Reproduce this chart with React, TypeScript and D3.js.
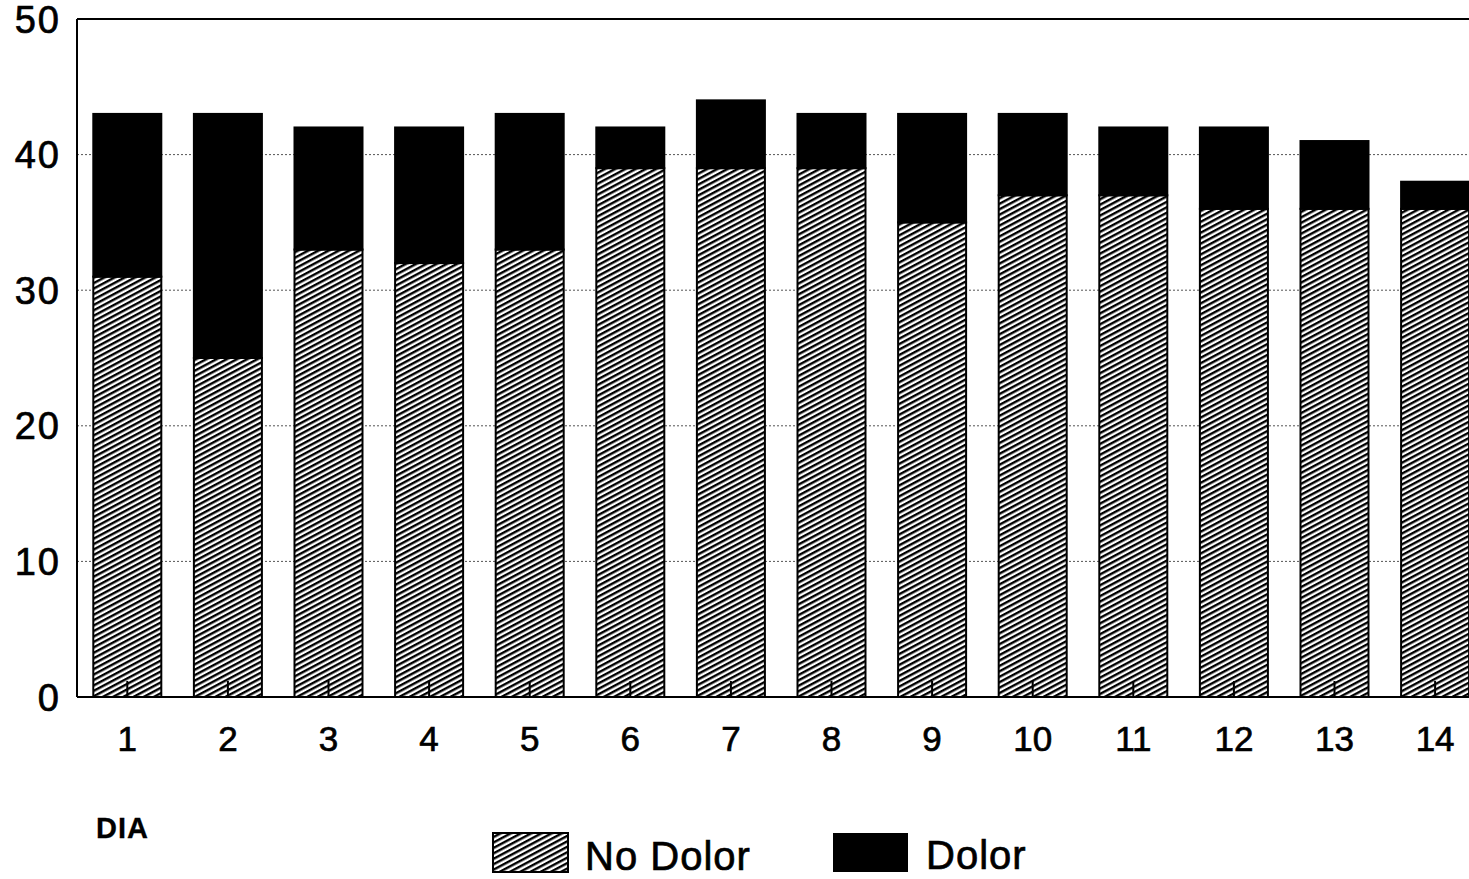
import React from "react";
import * as d3 from "d3";

const categories = ["1","2","3","4","5","6","7","8","9","10","11","12","13","14"];
const noDolor = [31, 25, 33, 32, 33, 39, 39, 39, 35, 37, 37, 36, 36, 36];
const dolor = [12, 18, 9, 10, 10, 3, 5, 4, 8, 6, 5, 6, 5, 2];
const yTicks = [0, 10, 20, 30, 40, 50];
const seriesNames = ["No Dolor", "Dolor"];

const W = 1469, H = 879;
const left = 77, baseY = 697, topY = 19;
const font = "'Liberation Sans', Arial, Helvetica, sans-serif";

export default function App() {
  const x = d3.scaleBand<string>().domain(categories).range([left, left + 14 * 100.6]).paddingInner(0.324).paddingOuter(0.162);
  const y = d3.scaleLinear().domain([0, 50]).range([baseY, topY]);
  const rows = categories.map((c, i) => ({ cat: c, "No Dolor": noDolor[i], "Dolor": dolor[i] }));
  const stack = d3.stack<any>().keys(seriesNames)(rows);
  const fills = ["url(#hatch)", "#000"];
  const txt = { fontFamily: font, fill: "#000", stroke: "#000", strokeWidth: 0.7 };

  return (
    <svg width={W} height={H} style={{ position: "absolute", left: 0, top: 0, background: "#fff" }}>
      <defs>
        <pattern id="hatch" patternUnits="userSpaceOnUse" width={12} height={4.8} patternTransform="rotate(-28)">
          <rect x={0} y={0} width={12} height={4.8} fill="#fff" />
          <rect x={0} y={0} width={12} height={2.4} fill="#000" />
        </pattern>
      </defs>
      {/* gridlines */}
      {yTicks.filter(t => t > 0 && t < 50).map(t => (
        <line key={t} x1={left} x2={W} y1={y(t)} y2={y(t)} stroke="#555" strokeWidth={1} strokeDasharray="2,2" />
      ))}
      {/* top line */}
      <line x1={left} x2={W} y1={y(50)} y2={y(50)} stroke="#000" strokeWidth={2} />
      {/* bars */}
      {stack.map((s, si) => (
        <g key={si}>
          {s.map((d, i) => (
            <rect key={i} x={x(categories[i])!} width={x.bandwidth()} y={y(d[1])} height={y(d[0]) - y(d[1])}
              fill={fills[si]} stroke="#000" strokeWidth={2} />
          ))}
        </g>
      ))}
      {/* x ticks */}
      {categories.map(c => (
        <line key={c} x1={x(c)! + x.bandwidth() / 2} x2={x(c)! + x.bandwidth() / 2} y1={baseY} y2={baseY - 16} stroke="#000" strokeWidth={2} />
      ))}
      {/* axes */}
      <line x1={left} x2={left} y1={y(50)} y2={baseY} stroke="#000" strokeWidth={2} />
      <line x1={left} x2={W} y1={baseY} y2={baseY} stroke="#000" strokeWidth={2} />
      {/* y labels */}
      {yTicks.map(t => (
        <text key={t} x={61} y={y(t)} dy="0.36em" textAnchor="end" fontSize={38} letterSpacing={2} {...txt}>{t}</text>
      ))}
      {/* x labels */}
      {categories.map(c => (
        <text key={c} x={x(c)! + x.bandwidth() / 2} y={751} textAnchor="middle" fontSize={35} {...txt}>{c}</text>
      ))}
      <text x={96} y={838} fontSize={29} fontWeight="bold" letterSpacing={1} {...txt} strokeWidth={0.3}>DIA</text>
      {/* legend */}
      <rect x={493} y={833} width={75} height={39} fill="url(#hatch)" stroke="#000" strokeWidth={2} />
      <text x={585} y={870} fontSize={40} letterSpacing={1} {...txt}>{seriesNames[0]}</text>
      <rect x={833} y={833} width={75} height={39} fill="#000" />
      <text x={926} y={869} fontSize={40} letterSpacing={1} {...txt}>{seriesNames[1]}</text>
    </svg>
  );
}
